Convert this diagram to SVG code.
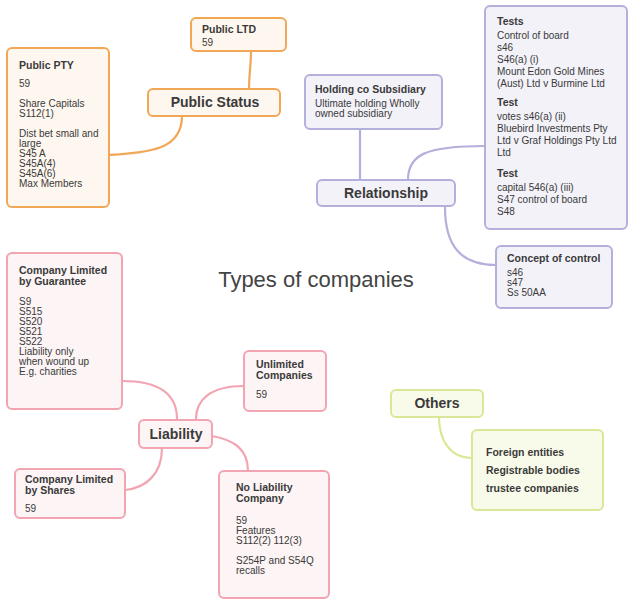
<svg xmlns="http://www.w3.org/2000/svg" width="635" height="605" viewBox="0 0 635 605">
<style>
text{font-family:"Liberation Sans",Arial,sans-serif;fill:#3a3a3a;font-size:10px}
.b{font-weight:bold;font-size:10.5px}
.h{font-weight:bold;font-size:14px;text-anchor:middle}
.o{fill:#fef7ef;stroke:#f2a757;stroke-width:2}
.p{fill:#f3f2f9;stroke:#b4b0dc;stroke-width:2}
.k{fill:#fcf4f5;stroke:#f2a4b2;stroke-width:2}
.g{fill:#f9fbea;stroke:#d8e896;stroke-width:2}
.c{fill:none;stroke-width:2.2;stroke-linecap:round}
</style>
<rect width="635" height="605" fill="#fff"/>
<g id="connectors">
<path class="c" stroke="#f2a757" d="M251,51 C251,65 249,75 249,89"/>
<path class="c" stroke="#f2a757" d="M182,116 C182,150 150,152 109,155"/>
<path class="c" stroke="#b4b0dc" d="M360,129 L360,180"/>
<path class="c" stroke="#b4b0dc" d="M408,180 C408,155 425,146 485,146"/>
<path class="c" stroke="#b4b0dc" d="M445,207 C445,245 460,265 496,265"/>
<path class="c" stroke="#f2a4b2" d="M122,381 C160,381 177,395 177,419"/>
<path class="c" stroke="#f2a4b2" d="M244,386 C210,386 196,400 196,419"/>
<path class="c" stroke="#f2a4b2" d="M162,448 C162,475 145,488 125,490"/>
<path class="c" stroke="#f2a4b2" d="M212,436 C235,440 248,450 248,471"/>
<path class="c" stroke="#d8e896" d="M439,417 C439,440 450,458 472,458"/>
</g>
<text x="316" y="287" style="font-size:22px;text-anchor:middle;fill:#444">Types of companies</text>
<g id="public-ltd">
<rect class="o" x="191" y="18" width="95" height="33" rx="5"/>
<text class="b" x="202" y="33">Public LTD</text>
<text x="202" y="46">59</text>
</g>
<g id="public-pty">
<rect class="o" x="7" y="48" width="102" height="159" rx="5"/>
<text class="b" x="19" y="69">Public PTY</text>
<text x="19" y="87">59</text>
<text x="19" y="107">Share Capitals</text>
<text x="19" y="117">S112(1)</text>
<text x="19" y="137">Dist bet small and</text>
<text x="19" y="147">large</text>
<text x="19" y="157">S45 A</text>
<text x="19" y="167">S45A(4)</text>
<text x="19" y="177">S45A(6)</text>
<text x="19" y="187">Max Members</text>
</g>
<g id="public-status">
<rect class="o" x="148" y="89" width="132" height="27" rx="5"/>
<text class="h" x="215" y="107">Public Status</text>
</g>
<g id="holding">
<rect class="p" x="305" y="75" width="137" height="54" rx="5"/>
<text class="b" x="315" y="93">Holding co Subsidiary</text>
<text x="315" y="107">Ultimate holding Wholly</text>
<text x="315" y="117">owned subsidiary</text>
</g>
<g id="relationship">
<rect class="p" x="317" y="180" width="138" height="26" rx="5"/>
<text class="h" x="386" y="198">Relationship</text>
</g>
<g id="tests">
<rect class="p" x="485" y="6" width="142" height="223" rx="5"/>
<text class="b" x="497" y="25">Tests</text>
<text x="497" y="39">Control of board</text>
<text x="497" y="51">s46</text>
<text x="497" y="63">S46(a) (i)</text>
<text x="497" y="75">Mount Edon Gold Mines</text>
<text x="497" y="87">(Aust) Ltd v Burmine Ltd</text>
<text class="b" x="497" y="106">Test</text>
<text x="497" y="120">votes s46(a) (ii)</text>
<text x="497" y="132">Bluebird Investments Pty</text>
<text x="497" y="144">Ltd v Graf Holdings Pty Ltd</text>
<text x="497" y="156">Ltd</text>
<text class="b" x="497" y="177">Test</text>
<text x="497" y="191">capital 546(a) (iii)</text>
<text x="497" y="203">S47 control of board</text>
<text x="497" y="215">S48</text>
</g>
<g id="concept">
<rect class="p" x="496" y="246" width="116" height="62" rx="5"/>
<text class="b" x="507" y="262">Concept of control</text>
<text x="507" y="276">s46</text>
<text x="507" y="286">s47</text>
<text x="507" y="296">Ss 50AA</text>
</g>
<g id="guarantee">
<rect class="k" x="7" y="253" width="115" height="156" rx="5"/>
<text class="b" x="19" y="274">Company Limited</text>
<text class="b" x="19" y="285">by Guarantee</text>
<text x="19" y="305">S9</text>
<text x="19" y="315">S515</text>
<text x="19" y="325">S520</text>
<text x="19" y="335">S521</text>
<text x="19" y="345">S522</text>
<text x="19" y="355">Liability only</text>
<text x="19" y="365">when wound up</text>
<text x="19" y="375">E.g. charities</text>
</g>
<g id="unlimited">
<rect class="k" x="244" y="351" width="82" height="60" rx="5"/>
<text class="b" x="256" y="368">Unlimited</text>
<text class="b" x="256" y="379">Companies</text>
<text x="256" y="398">59</text>
</g>
<g id="liability">
<rect class="k" x="139" y="420" width="73" height="28" rx="5"/>
<text class="h" x="176" y="439">Liability</text>
</g>
<g id="shares">
<rect class="k" x="15" y="469" width="110" height="49" rx="5"/>
<text class="b" x="25" y="483">Company Limited</text>
<text class="b" x="25" y="494">by Shares</text>
<text x="25" y="512">59</text>
</g>
<g id="no-liability">
<rect class="k" x="219" y="471" width="110" height="127" rx="5"/>
<text class="b" x="236" y="491">No Liability</text>
<text class="b" x="236" y="502">Company</text>
<text x="236" y="524">59</text>
<text x="236" y="534">Features</text>
<text x="236" y="544">S112(2) 112(3)</text>
<text x="236" y="564">S254P and S54Q</text>
<text x="236" y="574">recalls</text>
</g>
<g id="others">
<rect class="g" x="391" y="390" width="92" height="27" rx="5"/>
<text class="h" x="437" y="408">Others</text>
</g>
<g id="foreign">
<rect class="g" x="472" y="430" width="131" height="80" rx="5"/>
<text class="b" x="486" y="456">Foreign entities</text>
<text class="b" x="486" y="474">Registrable bodies</text>
<text class="b" x="486" y="492">trustee companies</text>
</g>
</svg>
